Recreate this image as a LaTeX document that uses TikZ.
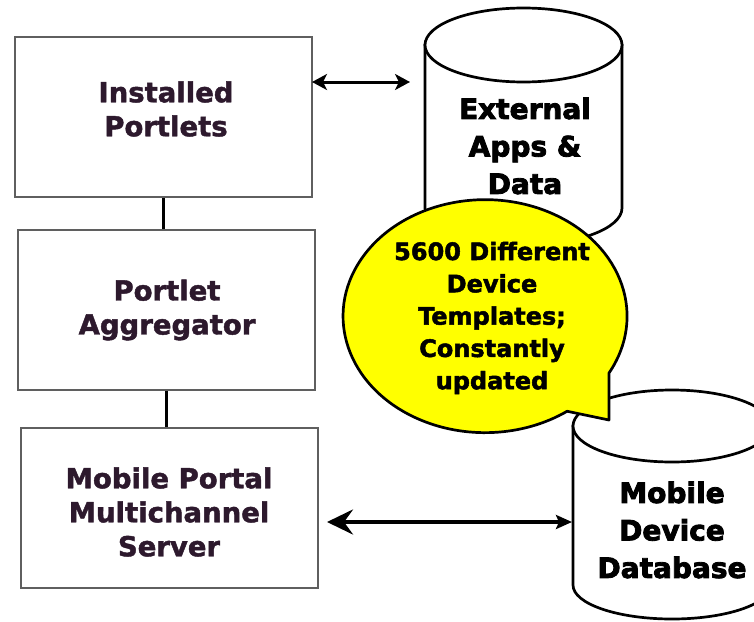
\documentclass[tikz,border=0pt]{standalone}
\usepackage{fontspec}
\setmainfont{DejaVu Sans}
\newfontfamily\boxfont[FakeBold=1.6]{DejaVu Sans Bold}
\newfontfamily\blackfont[FakeBold=3]{DejaVu Sans Bold}
\newfontfamily\callfont[FakeBold=2]{DejaVu Sans Bold}
\usetikzlibrary{arrows.meta}
\definecolor{boxtext}{RGB}{45,25,45}
\definecolor{boxline}{RGB}{95,95,95}
\definecolor{calloutyellow}{RGB}{255,255,0}
\begin{document}
\begin{tikzpicture}[x=1pt,y=-1pt,
  box/.style={draw=boxline,line width=1.5pt,minimum width=297pt,minimum height=160pt,inner sep=0pt},
  boxlabel/.style={text=boxtext,font=\fontsize{27.5}{34}\boxfont,align=center,inner sep=0pt},
  cyllabel/.style={font=\fontsize{28}{37.5}\blackfont,align=center,inner sep=0pt},
  calllabel/.style={font=\fontsize{24}{32.3}\callfont,align=center,inner sep=0pt},
  cyl/.style={draw=black,line width=2.7pt,fill=white},
  conn/.style={draw=black,line width=2.7pt},
  callout/.style={draw=black,line width=2.7pt,fill=calloutyellow,line join=round},
  arrtop/.style={line width=3pt,{Stealth[length=15pt,width=16pt,inset=4pt]}-{Stealth[length=15pt,width=16pt,inset=4pt]}},
  arrbot/.style={line width=4pt,{Stealth[length=26pt,width=25pt,inset=9pt]}-{Stealth[length=16pt,width=14pt,inset=3pt]}}
]
\useasboundingbox (0,0) rectangle (754,621);
\fill[white] (0,0) rectangle (754,621);
\clip (0,0) rectangle (754,621);

% left boxes
\node[box] (b1) at (163.5,117) {};
\node[box] (b2) at (166.5,310) {};
\node[box] (b3) at (169.5,508) {};
\node[boxlabel] (t1) at (166,109) {Installed\\Portlets};
\node[boxlabel] (t2) at (167,310) {Portlet\\Aggregator};
\node[boxlabel] (t3) at (169,512) {Mobile Portal\\Multichannel\\Server};
\draw[conn] (b1.south) -- (b1.south |- b2.north);
\draw[conn] (b2.south) -- (b2.south |- b3.north);

% cylinder 1
\path[cyl] (425,45) -- (425,208) arc[start angle=180,end angle=360,x radius=98.5pt,y radius=37pt] -- (622,45) -- cycle;
\path[cyl] (523.5,45) ellipse[x radius=98.5pt,y radius=37pt];
\node[cyllabel] (c1) at (525,146) {External\\Apps \&\\Data};

% cylinder 2
\path[cyl] (573,426) -- (573,585) arc[start angle=180,end angle=360,x radius=99pt,y radius=34pt] -- (771,426) -- cycle;
\path[cyl] (672,426) ellipse[x radius=99pt,y radius=36pt];
\node[cyllabel] (c2) at (672,530) {Mobile\\Device\\Database};

% callout
\path[callout] (609,373) arc[start angle=-29.2,end angle=305.3,x radius=142pt,y radius=116.5pt] -- (609,420) -- cycle;
\node[calllabel] (co) at (492,318) {5600 Different\\Device\\Templates;\\Constantly\\updated};

% arrows
\coordinate (p1) at (312,82);
\coordinate (p2) at (410,82);
\draw[arrtop] (p1) -- (p2);
\coordinate (q1) at (327,522);
\coordinate (q2) at (572,522);
\draw[arrbot] (q1) -- (q2);
\end{tikzpicture}
\end{document}
